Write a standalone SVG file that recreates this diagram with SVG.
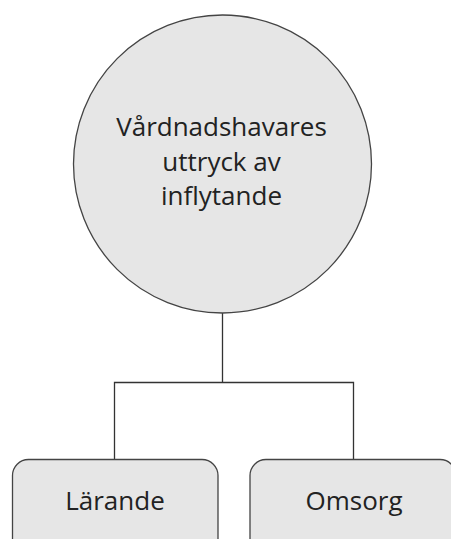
<svg xmlns="http://www.w3.org/2000/svg" width="451" height="539" viewBox="0 0 451 539">
<style>
.shape{fill:#e6e6e6;stroke:#444;stroke-width:1.3}
.conn{fill:none;stroke:#333;stroke-width:1.3}
.lbl{font-family:"Open Sans","Liberation Sans",sans-serif;font-size:26px;fill:#222;text-anchor:middle}
</style>
<rect width="451" height="539" fill="#fff"/>
<g id="connectors">
<path class="conn" d="M222.5 313V382.5M114.5 459.5V382.5H353.5V459.5"/>
</g>
<g id="root">
<circle class="shape" cx="222.5" cy="164" r="149"/>
<text class="lbl"><tspan x="221.5" y="136">Vårdnadshavares</tspan><tspan x="221.5" y="171">uttryck av</tspan><tspan x="221.5" y="205">inflytande</tspan></text>
</g>
<g id="larande">
<rect class="shape" x="12.5" y="459.5" width="205.5" height="110" rx="16"/>
<text class="lbl" x="115" y="509.5">Lärande</text>
</g>
<g id="omsorg">
<rect class="shape" x="250" y="459.5" width="206" height="110" rx="16"/>
<text class="lbl" x="354" y="509.5">Omsorg</text>
</g>
</svg>
